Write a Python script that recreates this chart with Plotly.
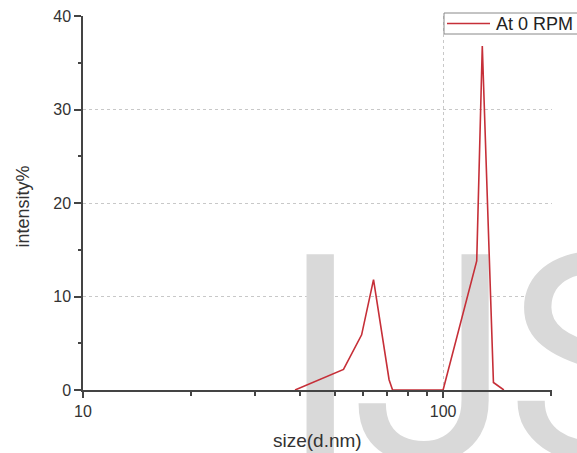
import plotly.graph_objects as go

# Data
size_nm = [38.8, 52.9, 59.4, 64.1, 70.8, 72.4, 100.0, 124.0, 128.5, 138.0, 147.5]
intensity = [0.0, 2.2, 5.9, 11.8, 1.1, 0.0, 0.0, 13.8, 36.8, 0.8, 0.0]
series_name = "At 0 RPM"
x_major_ticks = [10, 100]
x_minor_ticks = [20, 30, 40, 50, 60, 70, 80, 90, 200]
watermark_letters = ["I", "J", "S"]

FONT = "Liberation Sans, Arial"

# plot area in pixels: left 83, right 552, top 16, bottom 390
L, R, T, B = 83, 552, 16, 390
def px(xp):
    return (xp - L) / (R - L)
def py(yp):
    return (B - yp) / (B - T)
def logx(xp):
    # pixel -> data value on the log axis (10 at L, 100 at L+360)
    return 10 ** (1 + (xp - L) / 360.0)

fig = go.Figure()

# Watermark letters (drawn first so they sit behind the data line)
wm_px = [320, 431, 506]
wm_pos = ["middle center", "middle center", "middle right"]
fig.add_trace(go.Scatter(
    x=[logx(p) for p in wm_px], y=[0.22] * 3, mode="text", text=watermark_letters,
    textposition=wm_pos,
    textfont=dict(family="Roboto", size=290, color="#d9d9d9"),
    cliponaxis=False, showlegend=False, hoverinfo="skip",
))

fig.add_trace(go.Scatter(
    x=size_nm, y=intensity, mode="lines", name=series_name,
    line=dict(color="#c62f38", width=1.6),
    cliponaxis=False, showlegend=False,
))

axis_font = dict(family=FONT, size=16, color="#333333")

shapes = [
    dict(type="rect", xref="paper", yref="paper",
         x0=px(444), x1=px(600), y0=py(34), y1=py(13),
         line=dict(color="#888888", width=1), fillcolor="white", layer="above"),
    dict(type="line", xref="paper", yref="paper",
         x0=px(447), x1=px(490), y0=py(23.5), y1=py(23.5),
         line=dict(color="#c62f38", width=1.6), layer="above"),
]

annotations = [
    dict(text=series_name, xref="paper", yref="paper", x=px(494), y=py(24),
         xanchor="left", yanchor="middle", showarrow=False,
         font=dict(family=FONT, size=18, color="#222222")),
    dict(text="intensity%", xref="paper", yref="paper", x=px(22.5), y=py(207),
         xanchor="center", yanchor="middle", showarrow=False, textangle=-90,
         font=dict(family=FONT, size=18, color="#333333")),
    dict(text="size(d.nm)", xref="paper", yref="paper", x=px(317.5), y=py(440),
         xanchor="center", yanchor="middle", showarrow=False,
         font=dict(family=FONT, size=19, color="#333333")),
]

fig.update_layout(
    width=577, height=453,
    margin=dict(l=L, r=577 - R, t=T, b=453 - B, autoexpand=False),
    paper_bgcolor="white", plot_bgcolor="white",
    font=dict(family=FONT, color="#333333"),
    showlegend=False,
    shapes=shapes, annotations=annotations,
    xaxis=dict(
        type="log", range=[1, 2.3025],
        tickmode="array", tickvals=x_major_ticks, ticktext=[str(v) for v in x_major_ticks],
        ticks="outside", ticklen=6, tickwidth=1.5, tickcolor="#444444",
        minor=dict(tickmode="array", tickvals=x_minor_ticks, ticks="outside",
                   ticklen=4, tickwidth=1.5, tickcolor="#444444", showgrid=False),
        showline=True, linecolor="#444444", linewidth=1.5,
        showgrid=True, gridcolor="#c8c8c8", griddash="dot", gridwidth=1,
        zeroline=False, tickfont=axis_font,
    ),
    yaxis=dict(
        range=[0, 40], dtick=10, tick0=0,
        ticks="outside", ticklen=7, tickwidth=1.5, tickcolor="#444444",
        minor=dict(ticks="outside", dtick=5, tick0=0, ticklen=3, tickwidth=1.5,
                   tickcolor="#444444", showgrid=False),
        showline=True, linecolor="#444444", linewidth=1.5,
        showgrid=True, gridcolor="#c8c8c8", griddash="dot", gridwidth=1,
        zeroline=False, tickfont=axis_font,
    ),
)

fig.write_html("out.html")
